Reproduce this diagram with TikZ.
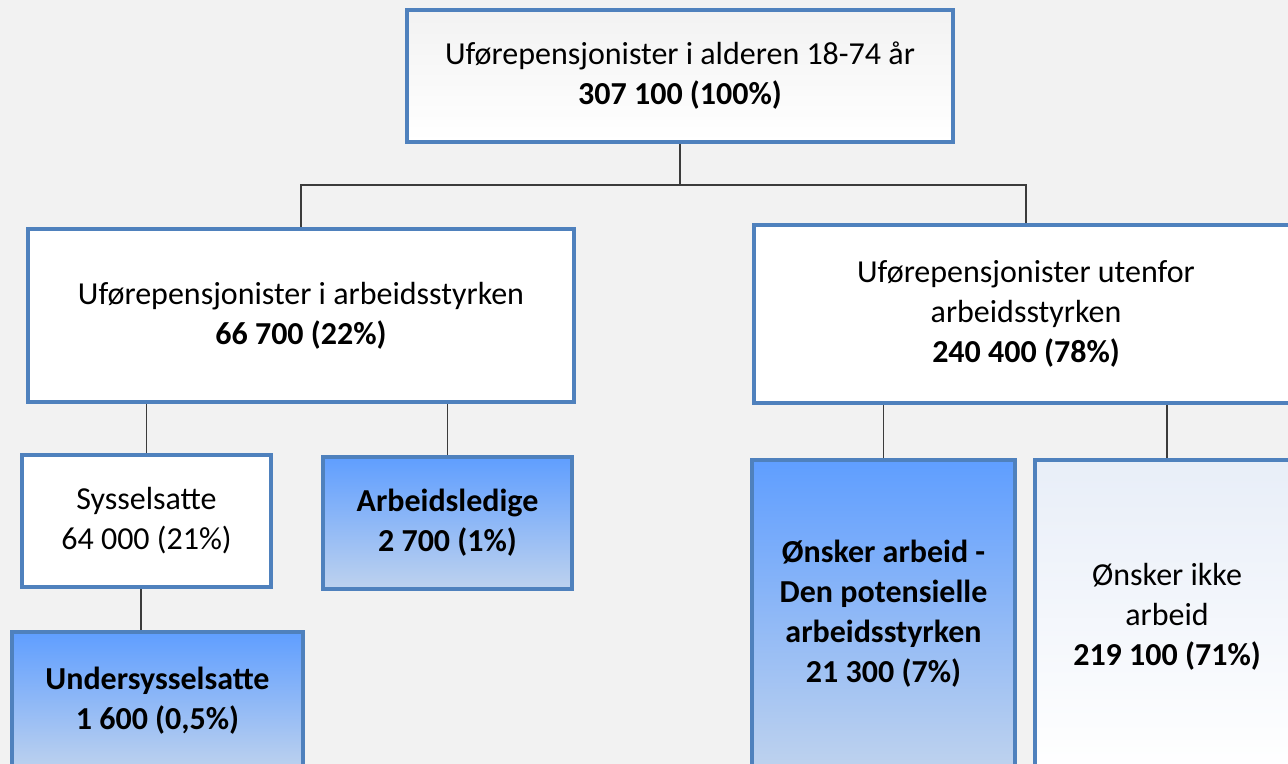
\documentclass[tikz,border=0pt]{standalone}
\usepackage{fontspec}
\setmainfont{Carlito}
\usetikzlibrary{shadows}
\definecolor{backdrop}{RGB}{242,242,242}
\definecolor{boxline}{RGB}{79,129,189}
\definecolor{bluetop}{RGB}{95,158,255}
\definecolor{bluemid}{RGB}{132,190,255}
\definecolor{bluebot}{RGB}{190,210,238}
\definecolor{paleblue}{RGB}{232,238,248}
\definecolor{linkgray}{RGB}{60,60,60}
\begin{document}
\begin{tikzpicture}[x=.5pt,y=-.5pt,
		box/.style={draw=boxline,line width=2pt,align=center,inner sep=0pt,font=\fontsize{16}{20}\selectfont,drop shadow={opacity=.25,shadow xshift=.8pt,shadow yshift=-1pt}},
		whitebox/.style={box,fill=white},
		palebox/.style={box,top color=#1,bottom color=white},
		bluebox/.style={box,top color=bluetop,middle color=bluemid,bottom color=bluebot},
		link/.style={draw=linkgray,line width=.75pt}]
	\fill[backdrop] (0,0) rectangle (1288,764);
	\clip (0,0) rectangle (1288,764);
	\node[palebox=black!5,minimum width=273pt,minimum height=66pt] (total) at (680,76) {Uførepensjonister i alderen 18-74 år\\\textbf{307 100 (100\%)}};
	\node[whitebox,minimum width=273pt,minimum height=86.5pt] (inside) at (301,315.5) {Uførepensjonister i arbeidsstyrken\\\textbf{66 700 (22\%)}};
	\node[whitebox,minimum width=272pt,minimum height=89pt] (outside) at (1026,314) {Uførepensjonister utenfor\\arbeidsstyrken\\\textbf{240 400 (78\%)}};
	\node[whitebox,minimum width=124.5pt,minimum height=66pt] (employed) at (146.5,521) {Sysselsatte\\64 000 (21\%)};
	\node[bluebox,minimum width=124.5pt,minimum height=66pt] (jobless) at (447.5,523) {\textbf{Arbeidsledige}\\\textbf{2 700 (1\%)}};
	\node[bluebox,minimum width=145.5pt,minimum height=69pt] (under) at (157.5,701) {\textbf{Undersysselsatte}\\\textbf{1 600 (0,5\%)}};
	\node[bluebox,minimum width=131.5pt,minimum height=154pt] (wants) at (883.5,614) {\textbf{Ønsker arbeid -}\\\textbf{Den potensielle}\\\textbf{arbeidsstyrken}\\\textbf{21 300 (7\%)}};
	\node[palebox=paleblue,minimum width=132pt,minimum height=157pt] (nowant) at (1167,617) {Ønsker ikke\\arbeid\\\textbf{219 100 (71\%)}};
	\draw[link] (total.south) -- ++(0,41) coordinate (fork);
	\draw[link] (inside.north) |- (fork) -| (outside.north);
	\draw[link] (employed.north) -- (employed.north |- inside.south);
	\draw[link] (jobless.north) -- (jobless.north |- inside.south);
	\draw[link] ([xshift=-2.75pt]employed.south) -- ([xshift=-2.75pt]employed.south |- under.north);
	\draw[link] (wants.north) -- (wants.north |- outside.south);
	\draw[link] (nowant.north) -- (nowant.north |- outside.south);
\end{tikzpicture}
\end{document}
